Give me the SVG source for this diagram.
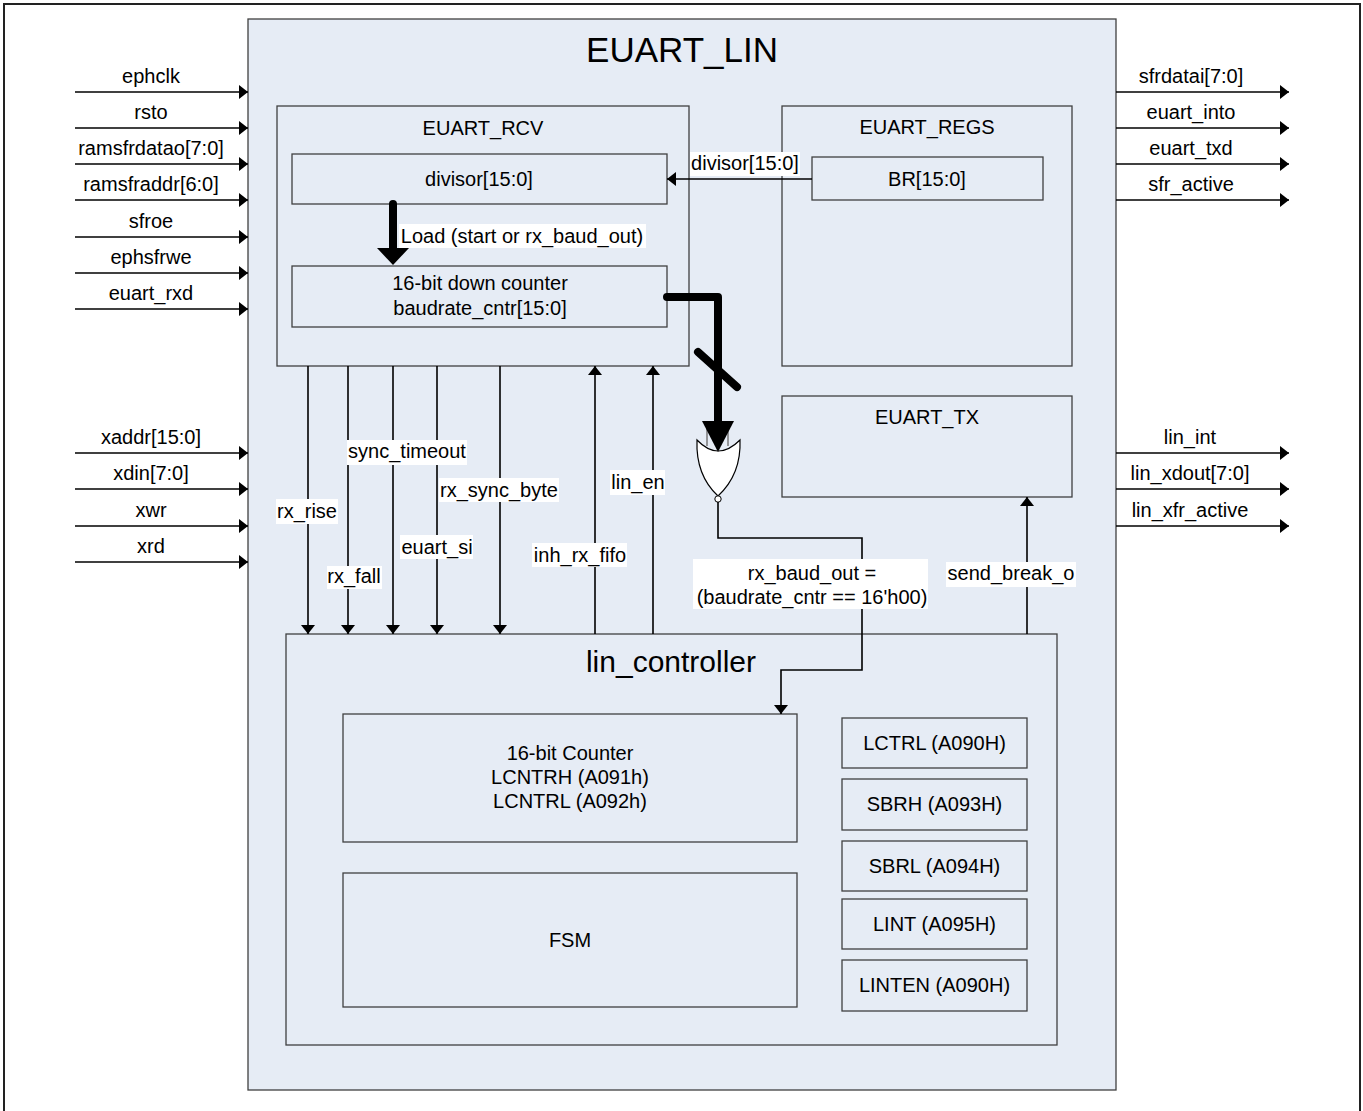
<svg xmlns="http://www.w3.org/2000/svg" width="1363" height="1111" viewBox="0 0 1363 1111">
<style>
  .blk { fill: #e6ecf5; stroke: #404040; stroke-width: 1.3; }
  .t { font-family: "Liberation Sans", Arial, sans-serif; font-size: 20px; fill: #000; text-anchor: middle; }
  .big { font-size: 35px; }
  .mid { font-size: 30px; }
  .w { stroke: #000; stroke-width: 1.6; fill: none; }
  .lbg { fill: #fff; }
  .thick { stroke: #000; stroke-width: 8; fill: none; stroke-linecap: round; stroke-linejoin: round; }
</style>
<defs>
  <marker id="arr" markerUnits="userSpaceOnUse" viewBox="0 0 9 14" refX="9" refY="7" markerWidth="9" markerHeight="14" orient="auto">
    <path d="M0,0 L9,7 L0,14 z" fill="#000"/>
  </marker>
</defs>
<rect x="0" y="0" width="1363" height="1111" fill="#fff"/>
<rect x="4" y="4" width="1356" height="1120" fill="none" stroke="#222" stroke-width="2"/>

<g id="euart_lin">
  <rect class="blk" x="248" y="19" width="868" height="1071"/>
  <text class="t big" x="682" y="62">EUART_LIN</text>
</g>

<g id="euart_rcv">
  <rect class="blk" x="277" y="106" width="412" height="260"/>
  <text class="t" x="483" y="135">EUART_RCV</text>
</g>
<g id="divisor">
  <rect class="blk" x="292" y="154" width="375" height="50"/>
  <text class="t" x="479" y="186">divisor[15:0]</text>
</g>
<g id="down_counter">
  <rect class="blk" x="292" y="266" width="375" height="61"/>
  <text class="t" x="480" y="290">16-bit down counter</text>
  <text class="t" x="480" y="315">baudrate_cntr[15:0]</text>
</g>

<g id="euart_regs">
  <rect class="blk" x="782" y="106" width="290" height="260"/>
  <text class="t" x="927" y="134">EUART_REGS</text>
</g>
<g id="br">
  <rect class="blk" x="812" y="157" width="231" height="43"/>
  <text class="t" x="927" y="186">BR[15:0]</text>
</g>

<g id="euart_tx">
  <rect class="blk" x="782" y="396" width="290" height="101"/>
  <text class="t" x="927" y="424">EUART_TX</text>
</g>

<g id="lin_controller">
  <rect class="blk" x="286" y="634" width="771" height="411"/>
  <text class="t mid" x="671" y="672">lin_controller</text>
</g>
<g id="counter16">
  <rect class="blk" x="343" y="714" width="454" height="128"/>
  <text class="t" x="570" y="760">16-bit Counter</text>
  <text class="t" x="570" y="784">LCNTRH (A091h)</text>
  <text class="t" x="570" y="808">LCNTRL (A092h)</text>
</g>
<g id="fsm">
  <rect class="blk" x="343" y="873" width="454" height="134"/>
  <text class="t" x="570" y="947">FSM</text>
</g>
<g id="lctrl">
  <rect class="blk" x="842" y="718" width="185" height="50"/>
  <text class="t" x="934.5" y="750">LCTRL (A090H)</text>
</g>
<g id="sbrh">
  <rect class="blk" x="842" y="779" width="185" height="51"/>
  <text class="t" x="934.5" y="811">SBRH (A093H)</text>
</g>
<g id="sbrl">
  <rect class="blk" x="842" y="841" width="185" height="50"/>
  <text class="t" x="934.5" y="873">SBRL (A094H)</text>
</g>
<g id="lint">
  <rect class="blk" x="842" y="899" width="185" height="50"/>
  <text class="t" x="934.5" y="931">LINT (A095H)</text>
</g>
<g id="linten">
  <rect class="blk" x="842" y="960" width="185" height="51"/>
  <text class="t" x="934.5" y="992">LINTEN (A090H)</text>
</g>

<g id="nor_gate">
  <line x1="707" y1="424" x2="707" y2="446" stroke="#777" stroke-width="1.5"/>
  <line x1="728" y1="424" x2="728" y2="446" stroke="#777" stroke-width="1.5"/>
  <path d="M697,440 Q718,462 740,440 C741,465 732,483 718,496 C704,483 696,465 697,440 z" fill="#fff" stroke="#000" stroke-width="1.2"/>
  <circle cx="718" cy="499" r="3.2" fill="#fff" stroke="#000" stroke-width="1"/>
</g>

<g id="connectors">
  <!-- left inputs -->
  <line class="w" x1="75" y1="92" x2="248" y2="92" marker-end="url(#arr)"/>
  <line class="w" x1="75" y1="128" x2="248" y2="128" marker-end="url(#arr)"/>
  <line class="w" x1="75" y1="164" x2="248" y2="164" marker-end="url(#arr)"/>
  <line class="w" x1="75" y1="200" x2="248" y2="200" marker-end="url(#arr)"/>
  <line class="w" x1="75" y1="237" x2="248" y2="237" marker-end="url(#arr)"/>
  <line class="w" x1="75" y1="273" x2="248" y2="273" marker-end="url(#arr)"/>
  <line class="w" x1="75" y1="309" x2="248" y2="309" marker-end="url(#arr)"/>
  <line class="w" x1="75" y1="453" x2="248" y2="453" marker-end="url(#arr)"/>
  <line class="w" x1="75" y1="489" x2="248" y2="489" marker-end="url(#arr)"/>
  <line class="w" x1="75" y1="526" x2="248" y2="526" marker-end="url(#arr)"/>
  <line class="w" x1="75" y1="562" x2="248" y2="562" marker-end="url(#arr)"/>
  <text class="t" x="151" y="83">ephclk</text>
  <text class="t" x="151" y="119">rsto</text>
  <text class="t" x="151" y="155">ramsfrdatao[7:0]</text>
  <text class="t" x="151" y="191">ramsfraddr[6:0]</text>
  <text class="t" x="151" y="228">sfroe</text>
  <text class="t" x="151" y="264">ephsfrwe</text>
  <text class="t" x="151" y="300">euart_rxd</text>
  <text class="t" x="151" y="444">xaddr[15:0]</text>
  <text class="t" x="151" y="480">xdin[7:0]</text>
  <text class="t" x="151" y="517">xwr</text>
  <text class="t" x="151" y="553">xrd</text>

  <!-- right outputs -->
  <line class="w" x1="1116" y1="92" x2="1289" y2="92" marker-end="url(#arr)"/>
  <line class="w" x1="1116" y1="128" x2="1289" y2="128" marker-end="url(#arr)"/>
  <line class="w" x1="1116" y1="164" x2="1289" y2="164" marker-end="url(#arr)"/>
  <line class="w" x1="1116" y1="200" x2="1289" y2="200" marker-end="url(#arr)"/>
  <line class="w" x1="1116" y1="453" x2="1289" y2="453" marker-end="url(#arr)"/>
  <line class="w" x1="1116" y1="489" x2="1289" y2="489" marker-end="url(#arr)"/>
  <line class="w" x1="1116" y1="526" x2="1289" y2="526" marker-end="url(#arr)"/>
  <text class="t" x="1191" y="83">sfrdatai[7:0]</text>
  <text class="t" x="1191" y="119">euart_into</text>
  <text class="t" x="1191" y="155">euart_txd</text>
  <text class="t" x="1191" y="191">sfr_active</text>
  <text class="t" x="1190" y="444">lin_int</text>
  <text class="t" x="1190" y="480">lin_xdout[7:0]</text>
  <text class="t" x="1190" y="517">lin_xfr_active</text>

  <!-- divisor from BR -->
  <line class="w" x1="812" y1="179" x2="667" y2="179" marker-end="url(#arr)"/>
  <rect class="lbg" x="690" y="152" width="110" height="24"/>
  <text class="t" x="745" y="170">divisor[15:0]</text>

  <!-- load thick arrow -->
  <line class="thick" x1="393" y1="204" x2="393" y2="248"/>
  <polygon points="377,248 409,248 393,265" fill="#000"/>
  <rect class="lbg" x="399" y="224" width="247" height="24"/>
  <text class="t" x="522" y="243">Load (start or rx_baud_out)</text>

  <!-- counter to gate thick -->
  <path class="thick" d="M667,297 L718,297 L718,421"/>
  <polygon points="702,421 734,421 718,452" fill="#000"/>
  <line class="thick" x1="698" y1="352" x2="737" y2="387"/>

  <!-- rx_baud_out -->
  <path class="w" d="M718,502 L718,538 L862,538 L862,670 L781,670 L781,714" marker-end="url(#arr)"/>
  <rect class="lbg" x="693" y="559" width="235" height="50"/>
  <text class="t" x="812" y="580">rx_baud_out =</text>
  <text class="t" x="812" y="604">(baudrate_cntr == 16'h00)</text>

  <!-- send_break_o -->
  <line class="w" x1="1027" y1="634" x2="1027" y2="497" marker-end="url(#arr)"/>
  <rect class="lbg" x="946" y="562" width="130" height="25"/>
  <text class="t" x="1011" y="580">send_break_o</text>

  <!-- vertical signals RCV <-> lin_controller -->
  <line class="w" x1="308" y1="366" x2="308" y2="634" marker-end="url(#arr)"/>
  <line class="w" x1="348" y1="366" x2="348" y2="634" marker-end="url(#arr)"/>
  <line class="w" x1="393" y1="366" x2="393" y2="634" marker-end="url(#arr)"/>
  <line class="w" x1="437" y1="366" x2="437" y2="634" marker-end="url(#arr)"/>
  <line class="w" x1="500" y1="366" x2="500" y2="634" marker-end="url(#arr)"/>
  <line class="w" x1="595" y1="634" x2="595" y2="366" marker-end="url(#arr)"/>
  <line class="w" x1="653" y1="634" x2="653" y2="366" marker-end="url(#arr)"/>

  <rect class="lbg" x="347" y="440" width="120" height="25"/>
  <text class="t" x="407" y="458">sync_timeout</text>
  <rect class="lbg" x="276" y="499" width="62" height="25"/>
  <text class="t" x="307" y="518">rx_rise</text>
  <rect class="lbg" x="439" y="478" width="120" height="24"/>
  <text class="t" x="499" y="497">rx_sync_byte</text>
  <rect class="lbg" x="610" y="470" width="55" height="25"/>
  <text class="t" x="638" y="489">lin_en</text>
  <rect class="lbg" x="400" y="535" width="73" height="24"/>
  <text class="t" x="437" y="554">euart_si</text>
  <rect class="lbg" x="532" y="543" width="95" height="24"/>
  <text class="t" x="580" y="562">inh_rx_fifo</text>
  <rect class="lbg" x="327" y="566" width="55" height="23"/>
  <text class="t" x="354" y="583">rx_fall</text>
</g>
</svg>
